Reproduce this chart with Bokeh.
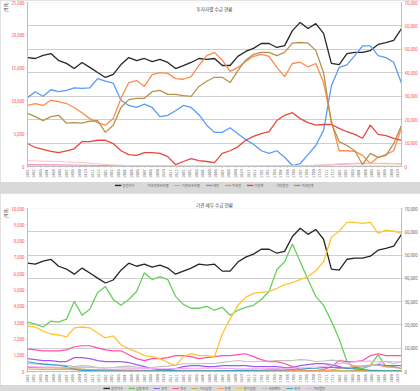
import math
from bokeh.plotting import figure
from bokeh.models import (Range1d, LinearAxis, FixedTicker, SingleIntervalTicker,
                          NumeralTickFormatter, CustomJSTickFormatter, Legend,
                          LegendItem, Label, Title)
from bokeh.layouts import column
from bokeh.embed import file_html
from bokeh.resources import INLINE

FONT = "Noto Sans CJK KR"

# ---------------- data ----------------
tick_labels = ["1401", "1402", "1403", "1404", "1405", "1406", "1407", "1408", "1409", "1410", "1411", "1412",
               "1501", "1502", "1503", "1504", "1505", "1506", "1507", "1508", "1509", "1510", "1511", "1512",
               "1601", "1602", "1603", "1604", "1605", "1606", "1607", "1608", "1609", "1610", "1611", "1612",
               "1701", "1702", "1703", "1704", "1705", "1706", "1707", "1708", "1709", "1710", "1711", "1712",
               "1801", "1802", "1803", "1804", "1805", "1806", "1807", "1808", "1809", "1810"]

index_vals = [46500, 46100, 47400, 48200, 45200, 44000, 41800, 44400, 42300, 40100,
              38000, 39300, 43500, 46500, 45200, 46100, 44800, 45700, 44400, 41800,
              43100, 44400, 46100, 45700, 46100, 43100, 43100, 47000, 49100, 50400,
              52500, 52500, 50800, 51600, 58000, 61500, 58900, 61000, 56800, 44000,
              43500, 48200, 48700, 48700, 49500, 52100, 52900, 53800, 58900]

foreign_hold = [150, 150, 140, 140, 130, 130, 120, 120, 120, 110, 110, 100, 100, 100, 90, 90, 90, 80, 80, 80,
                70, 70, 70, 60, 60, 60, 60, 50, 50, 50, 50, 50, 40, 40, 40, 40, 40, 50, 50, 60,
                80, 100, 120, 140, 160, 180, 200, 220, 240]
inst_hold = [300, 290, 280, 270, 260, 240, 220, 200, 180, 160, 140, 120, 100, 90, 80, 70, 60, 60, 50, 50,
             40, 40, 40, 30, 30, 30, 30, 30, 40, 40, 50, 60, 70, 80, 100, 120, 140, 160, 200, 260,
             320, 380, 420, 450, 470, 460, 450, 440, 430]
individual = [10500, 11400, 10700, 11700, 11400, 11600, 12000, 11900, 12000, 13400,
              13000, 12700, 10100, 9300, 9000, 9500, 9000, 7600, 7800, 8500,
              9300, 9000, 7900, 6300, 5200, 5200, 5900, 5000, 4100, 3400,
              2400, 2000, 2400, 1400, 150, 450, 1800, 3200, 5500, 12300,
              15100, 15500, 16900, 18400, 18400, 16900, 16600, 15900, 12700]
foreign = [9300, 9600, 9300, 10100, 9900, 9600, 9000, 8200, 7300, 6700,
           6300, 7300, 10400, 12800, 13100, 12200, 14000, 14300, 14200, 13400,
           13300, 13700, 15400, 16900, 17400, 16200, 14500, 15100, 16000, 16800,
           17100, 16800, 15100, 13700, 15700, 15900, 15200, 15700, 12800, 7000,
           2400, 2400, 2300, 1700, 460, 1400, 1800, 2400, 5900]
institution = [3500, 2900, 2600, 2300, 2100, 2400, 2700, 3800, 3800, 4000,
               4000, 3500, 2400, 1800, 1700, 2100, 2100, 2000, 1500, 300,
               760, 1200, 900, 760, 600, 2000, 2400, 3000, 4000, 4600,
               5000, 5300, 7000, 7800, 8200, 7300, 6700, 6300, 6400, 6400,
               5800, 5300, 4900, 4300, 6300, 4900, 4700, 4300, 4000]
other_corp = [900, 850, 820, 800, 780, 700, 650, 600, 500, 400,
              300, 250, 200, 150, 120, 100, 100, 80, 60, 50,
              50, 40, 40, 30, 30, 30, 40, 50, 60, 60,
              80, 80, 100, 100, 120, 150, 150, 200, 250, 300,
              400, 450, 500, 520, 500, 480, 500, 450, 420]
foreign_total = [8100, 7600, 7000, 7600, 7800, 6600, 6700, 6600, 6900, 7000,
                 5200, 6300, 9000, 10200, 10400, 10400, 11400, 11600, 11000, 11000,
                 10800, 10700, 12200, 13000, 13600, 13600, 12800, 14600, 16200, 17100,
                 17400, 17400, 16900, 17400, 18800, 18900, 18800, 17700, 14300, 6600,
                 3800, 3200, 2400, 300, 2000, 1400, 1700, 3500, 6300]

fin_invest = [3030, 2910, 2730, 3090, 3030, 3210, 4300, 3450, 3820, 4850,
              5210, 4420, 4060, 4420, 4910, 6060, 5640, 5820, 5640, 4610,
              4120, 3880, 3880, 4000, 3760, 3940, 3450, 3760, 3940, 4060,
              4420, 4910, 6240, 6730, 7820, 6730, 5640, 4610, 4060, 3090,
              2000, 610, 180, 180, 360, 1030, 300, 300, 180]
insurance = [790, 730, 670, 670, 610, 610, 850, 850, 790, 670,
             610, 610, 610, 550, 420, 300, 180, 120, 120, 180,
             300, 360, 360, 300, 300, 360, 360, 360, 360, 300,
             300, 300, 300, 240, 240, 360, 420, 480, 480, 420,
             300, 180, 240, 300, 360, 420, 360, 360, 360]
trust = [1390, 1330, 1270, 1270, 1270, 1330, 1520, 1580, 1580, 1450,
         1330, 1270, 1270, 1030, 790, 670, 790, 790, 850, 970,
         970, 910, 790, 850, 910, 970, 970, 1030, 1090, 910,
         730, 610, 610, 490, 300, 120, 60, 60, 120, 300,
         670, 610, 610, 670, 970, 1090, 970, 970, 970]
other_fin = [250, 240, 230, 230, 220, 200, 180, 150, 120, 100,
             90, 80, 80, 70, 70, 60, 60, 60, 50, 50,
             50, 40, 40, 40, 40, 50, 50, 50, 60, 60,
             60, 70, 70, 60, 60, 50, 50, 40, 40, 40,
             50, 50, 60, 60, 70, 70, 60, 60, 60]
bank = [150, 140, 130, 140, 130, 120, 110, 120, 110, 100,
        90, 100, 90, 80, 80, 70, 70, 60, 60, 70,
        80, 80, 70, 60, 60, 50, 50, 40, 40, 30,
        30, 40, 40, 50, 40, 30, 30, 40, 60, 100,
        180, 250, 300, 350, 400, 380, 300, 250, 200]
pension = [2790, 2730, 2480, 2300, 2240, 2120, 2670, 2730, 2670, 2360,
           2060, 2180, 1640, 1390, 1210, 970, 910, 790, 550, 360,
           910, 1090, 970, 970, 910, 2300, 3210, 4060, 4550, 4790,
           4850, 4910, 5090, 5330, 5450, 5640, 5820, 6180, 6730, 8240,
           8610, 9150, 9150, 9090, 9150, 8480, 8670, 8610, 8480]
private_fund = [480, 470, 450, 420, 400, 360, 300, 360, 330, 240,
                200, 250, 300, 330, 280, 200, 250, 300, 330, 400,
                480, 480, 480, 490, 490, 560, 610, 670, 610, 600,
                610, 640, 670, 670, 670, 730, 700, 610, 640, 700,
                650, 480, 360, 300, 360, 480, 610, 480, 610]
nation = [600, 520, 450, 420, 380, 300, 120, 60, 60, 50,
          40, 40, 30, 30, 30, 40, 40, 50, 60, 60,
          50, 40, 40, 40, 50, 60, 60, 70, 70, 80,
          80, 90, 90, 100, 120, 150, 180, 200, 240, 260,
          240, 200, 150, 120, 80, 60, 50, 40, 40]
other_corp2 = [300, 290, 280, 270, 260, 250, 240, 260, 250, 240,
               230, 230, 220, 210, 200, 190, 180, 170, 170, 180,
               190, 200, 200, 210, 200, 190, 180, 170, 160, 160,
               170, 180, 190, 200, 210, 230, 250, 280, 320, 400,
               480, 550, 600, 620, 640, 600, 620, 600, 580]

STEP = 6
TICK_STEP = 5

top_series = [
    ("종합지수", index_vals, "#262626", 1.3, "r"),
    ("외국인보유비중", foreign_hold, "#f7e08f", 1.0, "default"),
    ("기관보유비중", inst_hold, "#f28cc0", 1.0, "default"),
    ("개인", individual, "#5b9bf8", 1.3, "default"),
    ("외국인", foreign, "#ff8a4c", 1.3, "default"),
    ("기관계", institution, "#e8473f", 1.3, "default"),
    ("기타법인", other_corp, "#f6c6c0", 1.0, "default"),
    ("외국인계", foreign_total, "#b8924a", 1.3, "default"),
]
bottom_series = [
    ("종합지수", index_vals, "#262626", 1.3, "r"),
    ("금융투자", fin_invest, "#66d05a", 1.3, "default"),
    ("보험", insurance, "#9b5cf6", 1.2, "default"),
    ("투신", trust, "#ff4fa3", 1.2, "default"),
    ("기타금융", other_fin, "#c8a24e", 1.1, "default"),
    ("은행", bank, "#ff9a5c", 1.1, "default"),
    ("연기금등", pension, "#ffc533", 1.3, "default"),
    ("사모펀드", private_fund, "#c0c0c0", 1.1, "default"),
    ("국가", nation, "#3a9fc4", 1.1, "default"),
    ("기타법인", other_corp2, "#f4a8f4", 1.1, "default"),
]


def make_fig(height, title, title_inside, lmax, lstep, rmax, rstep, series, rcolor, borders):
    n = len(index_vals)
    xmax = STEP * (n - 1)
    bl, br, bt, bb = borders
    p = figure(width=420, height=height, x_range=Range1d(0, xmax), y_range=Range1d(0, lmax),
               output_backend="svg", toolbar_location=None,
               min_border_left=bl, min_border_right=br, min_border_top=bt, min_border_bottom=bb)
    p.outline_line_color = None
    p.extra_y_ranges = {"r": Range1d(0, rmax)}

    for label, vals, color, lw, rng in series:
        xs = [STEP * i for i in range(len(vals))]
        p.line(xs, vals, line_color=color, line_width=lw, y_range_name=rng)

    ly = p.yaxis[0]
    ly.ticker = SingleIntervalTicker(interval=lstep, num_minor_ticks=0)
    ly.formatter = NumeralTickFormatter(format="0,0")
    ly.major_label_text_color = "#ff3b3b"
    ry = LinearAxis(y_range_name="r", ticker=SingleIntervalTicker(interval=rstep, num_minor_ticks=0),
                    formatter=NumeralTickFormatter(format="0,0"))
    ry.major_label_text_color = rcolor
    p.add_layout(ry, "right")
    for ax in (ly, ry):
        ax.major_label_text_font_size = "4.3px"
        ax.major_label_text_font = FONT
        ax.axis_line_color = "#bfbfbf"
        ax.major_tick_line_color = "#bfbfbf"
        ax.major_tick_in = 0
        ax.major_tick_out = 1
        ax.minor_tick_line_color = None
        ax.major_label_standoff = 2

    xa = p.xaxis[0]
    xa.ticker = FixedTicker(ticks=[TICK_STEP * k for k in range(len(tick_labels))])
    xa.formatter = CustomJSTickFormatter(
        args=dict(labels=tick_labels, step=TICK_STEP),
        code="const i = Math.round(tick / step); return (i >= 0 && i < labels.length) ? labels[i] : '';")
    xa.major_label_orientation = math.pi / 2
    xa.major_label_text_font_size = "3.8px"
    xa.major_label_text_font = FONT
    xa.major_label_text_color = "#595959"
    xa.axis_line_color = "#bfbfbf"
    xa.major_tick_line_color = "#bfbfbf"
    xa.major_tick_in = 0
    xa.major_tick_out = 1
    xa.minor_tick_line_color = None
    xa.major_label_standoff = 2

    nr = int(round(rmax / rstep))
    p.xgrid.visible = False
    p.ygrid.ticker = FixedTicker(ticks=[lmax * k / nr for k in range(nr + 1)])
    p.ygrid.grid_line_color = "#cfcfcf"
    p.ygrid.grid_line_width = 1.2

    if title_inside:
        p.add_layout(Label(x=xmax / 2, y=lmax, y_offset=-3, text=title, text_align="center",
                           text_baseline="top", text_font=FONT, text_font_size="4.6px",
                           text_color="#404040"))
    else:
        p.title.text = title
        p.title.align = "center"
        p.title.text_font = FONT
        p.title.text_font_size = "4.6px"
        p.title.text_font_style = "normal"
        p.title.text_color = "#404040"
        p.title.standoff = 2
    p.add_layout(Title(text="(억원)", align="right", text_font=FONT, text_font_size="4px",
                       text_font_style="normal", text_color="#404040", standoff=0, offset=0),
                 "left")
    return p


def make_legend_fig(height, series):
    # thin strip under each chart that holds its legend; the series are drawn
    # here too but fall outside this strip's y range, so only the keys show
    n = len(index_vals)
    q = figure(width=420, height=height, x_axis_type=None, y_axis_type=None,
               x_range=Range1d(0, STEP * (n - 1)), y_range=Range1d(-2, -1),
               output_backend="svg", toolbar_location=None,
               min_border_left=0, min_border_right=0, min_border_top=0, min_border_bottom=0)
    q.outline_line_color = None
    q.grid.visible = False
    items = []
    for label, vals, color, lw, rng in series:
        xs = [STEP * i for i in range(len(vals))]
        r = q.line(xs, vals, line_color=color, line_width=lw)
        items.append(LegendItem(label=label, renderers=[r]))
    legend = Legend(items=items, orientation="horizontal", location="center")
    legend.label_text_font = FONT
    legend.label_text_font_size = "3.3px"
    legend.label_text_color = "#595959"
    legend.label_width = 0
    legend.label_height = 4
    legend.glyph_width = 7
    legend.glyph_height = 3
    legend.label_standoff = 1
    legend.spacing = 5
    legend.padding = 0
    legend.margin = 0
    legend.border_line_color = None
    legend.background_fill_alpha = 0
    q.add_layout(legend, "center")
    return q


p1 = make_fig(182, "투자자별 수급 현황", True, 25000, 5000, 70000, 10000, top_series, "#ff3b3b",
              (21, 15, 2, 16))
l1 = make_legend_fig(6, top_series)
p2 = make_fig(192, "기관 세부 수급 현황", False, 10000, 1000, 70000, 10000, bottom_series, "#595959",
              (25, 15, 15, 12))
l2 = make_legend_fig(6, bottom_series)

layout = column(column(p1, l1), column(p2, l2), spacing=5, styles={"background-color": "#d9d9d9"})

open("out.html", "w").write(file_html(layout, INLINE))
